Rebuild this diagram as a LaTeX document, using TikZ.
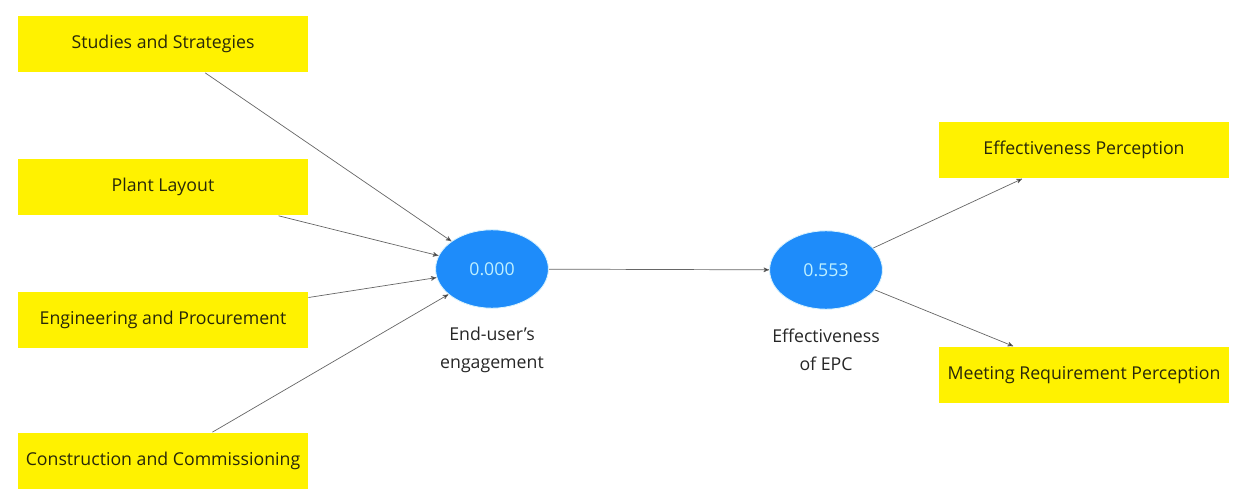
\documentclass[tikz,border=0pt]{standalone}
\usepackage{fontspec}
\setmainfont{Open Sans}
\usetikzlibrary{arrows,shapes.geometric}

\definecolor{lvblue}{RGB}{30,140,250}
\definecolor{lvtext}{RGB}{190,240,255}
\definecolor{boxtext}{RGB}{40,40,10}

\tikzset{
    factor/.style={rectangle, fill=yellow, minimum width=7.25cm, minimum height=1.42cm, text=boxtext, font=\fontsize{12.6}{14}\selectfont},
    latent/.style={ellipse, fill=lvblue, draw=cyan!15, minimum width=2.82cm, minimum height=1.96cm, text=lvtext, font=\fontsize{12.6}{14}\selectfont},
    caption/.style={align=center, text=black!85, font=\fontsize{12.6}{20}\selectfont},
    path/.style={->, draw=black!60, line width=0.5pt}
}

\begin{document}
\begin{tikzpicture}[x=0.025cm, y=-0.025cm, >=stealth', semithick]
    \useasboundingbox (0,0) rectangle (1234,490);

    \node[factor]   (study)    at (163,44)   {Studies and Strategies};
    \node[factor]   (layout)   at (163,187)  {Plant Layout};
    \node[factor]   (engproc)  at (163,320)  {Engineering and Procurement};
    \node[factor]   (constr)   at (163,461)  {Construction and Commissioning};

    \node[latent]   (user)     at (492,269)  {0.000};
    \node[latent]   (epc)      at (826,270)  {0.553};
    \node[caption]  (userlbl)  at (492,350)  {End-user's\\engagement};
    \node[caption]  (epclbl)   at (826,350)  {Effectiveness\\of EPC};

    \node[factor]   (effperc)  at (1084,150) {Effectiveness Perception};
    \node[factor]   (meetperc) at (1084,375) {Meeting Requirement Perception};

    % inner model
    \path[path] (study)   edge (user)
                (layout)  edge (user)
                (engproc) edge (user)
                (constr)  edge (user)
                (user)    edge (epc)
                (epc)     edge (effperc)
                          edge (meetperc);
\end{tikzpicture}
\end{document}
